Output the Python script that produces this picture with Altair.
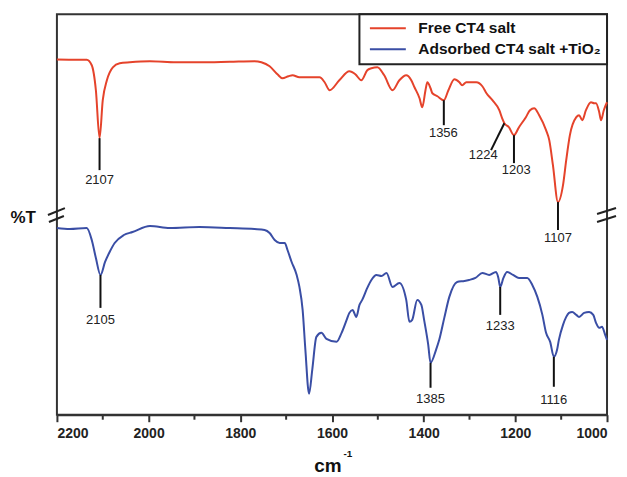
import altair as alt
import pandas as pd

# ---- data (wavenumber cm-1, relative %T in arbitrary offset units) ----
red_wn = [2200, 2135, 2124, 2115, 2107, 2100, 2091, 2078, 2063, 2041, 1997, 1940, 1889, 1823,
          1769, 1754, 1736, 1719, 1708, 1695, 1686, 1671, 1627, 1616, 1605, 1584, 1562, 1549,
          1536, 1523, 1514, 1501, 1486, 1468, 1453, 1438, 1427, 1420, 1409, 1403, 1396, 1392,
          1385, 1381, 1370, 1356, 1346, 1333, 1322, 1316, 1307, 1285, 1272, 1263, 1250, 1235,
          1228, 1224, 1214, 1203, 1192, 1177, 1168, 1159, 1148, 1133, 1126, 1118, 1107, 1096,
          1089, 1081, 1067, 1061, 1054, 1046, 1035, 1028, 1024, 1017, 1013, 1007, 1000]
red_t = [355.7, 355.5, 350, 325, 277, 315, 335, 348, 352, 353, 354, 353, 353, 353.5,
         354, 353, 349, 341, 337, 339, 340, 338, 338, 333, 325, 335, 344, 341,
         335, 345, 347, 348, 340, 325, 335, 340, 335, 328, 317, 308, 325, 333,
         327, 322, 319, 315, 325, 336, 333, 330, 333, 333, 329, 322, 315, 305,
         296, 292, 288, 280, 288, 298, 305, 307, 300, 285, 275, 250, 213, 230,
         255, 280, 298, 300, 295, 305, 313, 312, 312, 303, 295, 305, 313]

blue_wn = [2200, 2172, 2135, 2124, 2115, 2105, 2095, 2085, 2074, 2054, 2035, 1997, 1954, 1889,
           1823, 1769, 1747, 1736, 1725, 1714, 1703, 1697, 1688, 1677, 1671, 1664, 1658, 1650,
           1643, 1634, 1623, 1612, 1590, 1579, 1568, 1562, 1555, 1547, 1540, 1534, 1523, 1514,
           1503, 1492, 1481, 1468, 1453, 1438, 1431, 1425, 1414, 1405, 1399, 1390, 1385, 1373,
           1366, 1355, 1344, 1327, 1311, 1301, 1287, 1272, 1257, 1242, 1237, 1233, 1226, 1218,
           1205, 1192, 1174, 1163, 1152, 1141, 1133, 1124, 1116, 1109, 1105, 1096, 1089, 1083,
           1076, 1067, 1061, 1050, 1039, 1030, 1024, 1017, 1011, 1004, 1000]
blue_t = [187, 186, 187, 175, 157, 140, 153, 163, 172, 180, 183, 189, 187, 188,
          187, 186, 185, 182, 175, 172, 172, 165, 153, 140, 128, 105, 65, 21,
          45, 78, 82, 76, 73, 82, 95, 102, 105, 98, 110, 115, 127, 135,
          140, 139, 142, 128, 132, 115, 93, 95, 115, 110, 95, 70, 52, 65,
          75, 97, 118, 133, 134, 135, 137, 142, 140, 143, 137, 128, 137, 143,
          140, 137, 137, 130, 118, 100, 82, 73, 58, 65, 75, 90, 98, 102,
          103, 100, 98, 102, 103, 100, 92, 87, 88, 80, 75]

series_names = ["Free CT4 salt", "Adsorbed CT4 salt +TiO\u2082"]
series_colors = ["#E5432B", "#3A4EA5"]

# peak annotations
ann_labels = ["2107", "1356", "1224", "1203", "1107", "2105", "1233", "1385", "1116"]
ann_wn = [2107, 1356, 1224, 1203, 1107, 2105, 1233, 1385, 1116]
ann_t = [277, 315, 292, 280, 213, 140, 128, 52, 58]
ann_wn_end = [2107, 1356, 1253, 1203, 1107, 2105, 1233, 1385, 1116]
ann_t_end = [245, 290, 265, 252, 185, 107, 100, 27, 28]
ann_label_wn = [2107, 1357, 1270, 1198, 1107, 2105, 1233, 1385, 1116]
ann_label_t = [235, 282, 260, 245, 177, 95, 89, 16, 15]

major_ticks = [2200, 2000, 1800, 1600, 1400, 1200, 1000]
minor_ticks = [2100, 1900, 1700, 1500, 1300, 1100]

# ---- tables ----
df = pd.concat([
    pd.DataFrame({"wn": red_wn, "T": red_t, "series": series_names[0]}),
    pd.DataFrame({"wn": blue_wn, "T": blue_t, "series": series_names[1]}),
])
ann = pd.DataFrame({"label": ann_labels, "wn": ann_wn, "T": ann_t, "wn2": ann_wn_end,
                    "T2": ann_t_end, "lwn": ann_label_wn, "lT": ann_label_t})
minor = pd.DataFrame({"wn": minor_ticks})

W, H = 551, 401
FONT = "Liberation Sans"

xscale = alt.Scale(domain=[1000, 2200], reverse=True, nice=False)
yscale = alt.Scale(domain=[0, 401], nice=False, zero=False)

xaxis = alt.Axis(values=major_ticks, format="d", title="cm", titleFont=FONT, titleFontSize=19,
                 titleFontWeight="bold", titleColor="#111", titleX=271, titleY=57,
                 titleBaseline="alphabetic", titleAlign="center",
                 labelFont=FONT, labelFontSize=14, labelFontWeight="bold", labelColor="#222",
                 labelPadding=5, tickSize=7, tickWidth=2, tickColor="#333",
                 domainColor="#333", domainWidth=2, grid=False)
yaxis = alt.Axis(title="%T", titleAngle=0, titleX=-47, titleY=203, titleAlign="left",
                 titleBaseline="middle", titleFont=FONT, titleFontSize=17,
                 titleFontWeight="bold", titleColor="#111",
                 labels=False, ticks=False, domain=False, grid=False)

lines = alt.Chart(df).mark_line(strokeWidth=2, interpolate="monotone").encode(
    x=alt.X("wn:Q", scale=xscale, axis=xaxis),
    y=alt.Y("T:Q", scale=yscale, axis=yaxis),
    color=alt.Color("series:N", scale=alt.Scale(domain=series_names, range=series_colors),
                    legend=alt.Legend(title=None, orient="top-right", offset=0,
                                      symbolType="M-0.5,0H4.64", symbolSize=196,
                                      symbolStrokeWidth=2, labelFont=FONT,
                                      labelFontSize=15.5, labelFontWeight="bold",
                                      labelColor="#111", labelOffset=37, labelLimit=400,
                                      padding=6, rowPadding=4, strokeColor="#222",
                                      fillColor="white")),
    detail="series:N",
)

ann_rules = alt.Chart(ann).mark_rule(color="#111", strokeWidth=2).encode(
    x="wn:Q", x2="wn2:Q", y="T:Q", y2="T2:Q")
ann_text = alt.Chart(ann).mark_text(font=FONT, fontSize=13, color="#222",
                                    baseline="middle", align="center").encode(
    x="lwn:Q", y="lT:Q", text="label:N")

minor_rules = alt.Chart(minor).mark_rule(color="#333", strokeWidth=2).encode(
    x="wn:Q", y=alt.value(H), y2=alt.value(H + 5))

sup = alt.Chart(pd.DataFrame({"t": ["-1"]})).mark_text(
    font=FONT, fontSize=10, fontWeight="bold", color="#111", align="left",
    baseline="middle").encode(x=alt.value(287), y=alt.value(440), text="t:N")

def brk(x1, y1, x2, y2):
    return alt.Chart(pd.DataFrame({"k": [0]})).mark_rule(color="#222", strokeWidth=2).encode(
        x=alt.value(x1), y=alt.value(y1), x2=alt.value(x2), y2=alt.value(y2))

breaks = [brk(-9, 201, 8, 194), brk(-8, 208, 7, 202),
          brk(541, 200, 560, 194), brk(541, 208, 560, 202)]

chart = alt.layer(lines, ann_rules, ann_text, minor_rules, sup, *breaks).properties(
    width=W, height=H,
    autosize=alt.AutoSizeParams(type="none"),
    padding={"left": 49, "top": 6, "right": 12, "bottom": 62},
).configure_view(stroke="#333", strokeWidth=2).configure_legend(strokeWidth=2)

chart.save("out.html", embed_options={"renderer": "svg", "actions": False})
